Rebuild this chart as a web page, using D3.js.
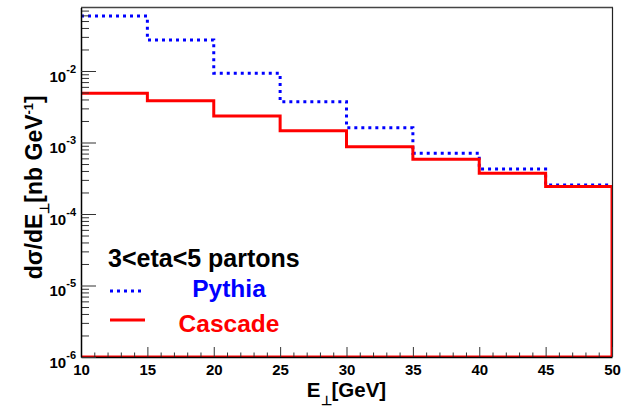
<!DOCTYPE html>
<html><head><meta charset="utf-8">
<script src="https://cdn.jsdelivr.net/npm/d3@7"></script>
<style>
html,body{margin:0;padding:0;background:#fff;}
text{font-family:"Liberation Sans",Arial,Helvetica,sans-serif;font-weight:bold;}
</style></head>
<body>
<svg id="c" width="621" height="410"></svg>
<script>
const binEdges = [10, 15, 20, 25, 30, 35, 40, 45, 50];
const pythia  = [0.0587, 0.0271, 0.00929, 0.00372, 0.00161, 0.000706, 0.000426, 0.000255];
const cascade = [0.00488, 0.00385, 0.00235, 0.00146, 0.000873, 0.000582, 0.000372, 0.000243];
const xTickValues = [10, 15, 20, 25, 30, 35, 40, 45, 50];
const xTickLabels = ["10", "15", "20", "25", "30", "35", "40", "45", "50"];
const yTickExps = [-6, -5, -4, -3, -2];
const legendTitle = "3<eta<5 partons";
const seriesNames = ["Pythia", "Cascade"];

const svg = d3.select("#c");
const L = 81, R = 612, T = 7.5, B = 357;
const x = d3.scaleLinear().domain([10, 50]).range([L, R]);
const yMin = 1e-6, yMax = 0.0773;
const y = d3.scaleLog().domain([yMin, yMax]).range([B, T]);

svg.append("defs").append("clipPath").attr("id", "clip")
  .append("rect").attr("x", L).attr("y", T).attr("width", R - L).attr("height", B - T);

function stepPoints(vals) {
  const pts = vals.map((v, i) => [binEdges[i], v]);
  pts.push([binEdges[binEdges.length - 1], vals[vals.length - 1]]);
  return pts;
}
const line = d3.line().x(d => x(d[0])).y(d => y(d[1])).curve(d3.curveStepAfter);
const lineLin = d3.line().x(d => x(d[0])).y(d => y(d[1]));

const g = svg.append("g").attr("clip-path", "url(#clip)");
g.append("path").attr("d", line(stepPoints(pythia)))
  .attr("fill", "none").attr("stroke", "#0000ff").attr("stroke-width", 3)
  .attr("stroke-dasharray", "3,4");
const cp = stepPoints(cascade);
g.append("path").attr("d", line(cp))
  .attr("fill", "none").attr("stroke", "#ff0000").attr("stroke-width", 3);
g.append("path").attr("d", lineLin([[50, cascade[cascade.length - 1]], [50, yMin], [10, yMin]]))
  .attr("fill", "none").attr("stroke", "#ff0000").attr("stroke-width", 3);

svg.append("line").attr("x1", L).attr("x2", R + 1).attr("y1", T).attr("y2", T)
  .attr("stroke", "#444").attr("stroke-width", 1.5);
svg.append("line").attr("x1", R + 0.5).attr("x2", R + 0.5).attr("y1", T).attr("y2", B)
  .attr("stroke", "#222").attr("stroke-width", 1.2);

const xMinor = d3.range(10, 51, 1).filter(v => v % 5 !== 0);
svg.append("g").attr("transform", `translate(0,${B})`)
  .call(d3.axisBottom(x).tickValues(xMinor).tickSize(-4.5).tickFormat(""))
  .call(a => a.select(".domain").remove())
  .selectAll("line").attr("stroke", "#333");
const xa = svg.append("g").attr("transform", `translate(0,${B})`)
  .call(d3.axisBottom(x).tickValues(xTickValues).tickSize(-10).tickSizeOuter(0)
    .tickFormat((d, i) => xTickLabels[i]));
xa.select(".domain").attr("stroke", "#000").attr("stroke-width", 1.5);
xa.selectAll(".tick line").attr("stroke", "#333");
xa.selectAll(".tick text").attr("y", 17.5).attr("dy", 0).attr("font-size", 15)
  .attr("fill", "#000").attr("font-family", null);

const yMinor = [];
for (let e = -6; e <= -2; e++) for (let m = 2; m <= 9; m++) { const v = m * Math.pow(10, e); if (v <= yMax) yMinor.push(v); }
svg.append("g").attr("transform", `translate(${L},0)`)
  .call(d3.axisLeft(y).tickValues(yMinor).tickSize(-8).tickFormat(""))
  .call(a => a.select(".domain").remove())
  .selectAll("line").attr("stroke", "#333");
const ya = svg.append("g").attr("transform", `translate(${L},0)`)
  .call(d3.axisLeft(y).tickValues(yTickExps.map(e => Math.pow(10, e))).tickSize(-15).tickSizeOuter(0).tickFormat(""));
ya.select(".domain").attr("stroke", "#000").attr("stroke-width", 1.5);
ya.selectAll(".tick line").attr("stroke", "#333");
yTickExps.forEach(e => {
  const t = svg.append("text").attr("x", 76).attr("y", y(Math.pow(10, e)) + 10.5)
    .attr("text-anchor", "end").attr("font-size", 15).attr("fill", "#000");
  t.append("tspan").text("10");
  t.append("tspan").attr("font-size", 11).attr("dy", -9).text(String(e));
});

const xt = svg.append("text").attr("x", (L + R) / 2).attr("y", 396.5)
  .attr("text-anchor", "middle").attr("font-size", 20.5).attr("fill", "#000");
xt.append("tspan").text("E");
xt.append("tspan").attr("font-size", 13).attr("dy", 8).text("⊥");
xt.append("tspan").attr("dy", -8).text("[GeV]");

const yt = svg.append("text").attr("transform", `translate(42,${(T + B) / 2 + 5}) rotate(-90)`)
  .attr("text-anchor", "middle").attr("font-size", 23).attr("fill", "#000");
yt.append("tspan").text("dσ/dE");
yt.append("tspan").attr("font-size", 13).attr("dy", 7).text("⊥");
yt.append("tspan").attr("dy", -7).text("[nb GeV");
yt.append("tspan").attr("font-size", 13).attr("dy", -9).text("-1");
yt.append("tspan").attr("dy", 9).text("]");

svg.append("text").attr("x", 108).attr("y", 267).attr("font-size", 25).attr("fill", "#000").text(legendTitle);
svg.append("line").attr("x1", 110).attr("x2", 142).attr("y1", 291).attr("y2", 291)
  .attr("stroke", "#0000ff").attr("stroke-width", 3).attr("stroke-dasharray", "3,4");
svg.append("text").attr("x", 229).attr("y", 297).attr("text-anchor", "middle")
  .attr("font-size", 24.5).attr("fill", "#0000ff").text(seriesNames[0]);
svg.append("line").attr("x1", 110).attr("x2", 145).attr("y1", 320).attr("y2", 320)
  .attr("stroke", "#ff0000").attr("stroke-width", 3);
svg.append("text").attr("x", 229).attr("y", 332).attr("text-anchor", "middle")
  .attr("font-size", 24.5).attr("fill", "#ff0000").text(seriesNames[1]);
</script>
</body></html>
